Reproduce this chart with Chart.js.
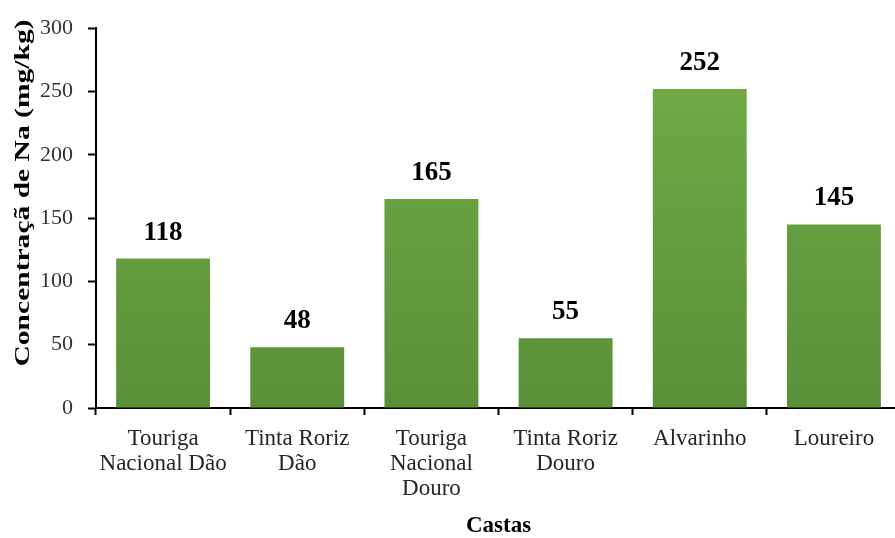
<!DOCTYPE html>
<html>
<head>
<meta charset="utf-8">
<script src="https://cdn.jsdelivr.net/npm/chart.js@4"></script>
<style>
  html, body { margin: 0; padding: 0; background: #fff; overflow: hidden; }
  #wrap { position: relative; width: 901px; height: 538px; }
</style>
</head>
<body>
<div id="wrap"><canvas id="chart"></canvas></div>
<script>
const castas = [
  ['Touriga', 'Nacional Dão'],
  ['Tinta Roriz', 'Dão'],
  ['Touriga', 'Nacional', 'Douro'],
  ['Tinta Roriz', 'Douro'],
  'Alvarinho',
  'Loureiro'
];
const sodio = [118, 48, 165, 55, 252, 145];
const yMax = 300;
const yStep = 50;
const yTitle = 'Concentraçã de Na (mg/kg)';
const xTitle = 'Castas';

const serif = '"Liberation Serif", "Times New Roman", serif';

function barGradient(context) {
  const chart = context.chart;
  const area = chart.chartArea;
  if (!area) return '#6aa443';
  const g = chart.ctx.createLinearGradient(0, area.top, 0, area.bottom);
  g.addColorStop(0, '#72ae48');
  g.addColorStop(1, '#5a9038');
  return g;
}

// value labels above the bars
const valueLabels = {
  id: 'valueLabels',
  afterDatasetsDraw(chart) {
    const ctx = chart.ctx;
    const meta = chart.getDatasetMeta(0);
    ctx.save();
    ctx.font = 'bold 27px ' + serif;
    ctx.fillStyle = '#000';
    ctx.textAlign = 'center';
    ctx.textBaseline = 'alphabetic';
    meta.data.forEach((bar, i) => {
      ctx.fillText(String(sodio[i]), bar.x, bar.y - 19);
    });
    ctx.restore();
  }
};

// y title is stretched along its length in the original, so draw it by hand
const stretchedYTitle = {
  id: 'stretchedYTitle',
  afterDraw(chart) {
    const ctx = chart.ctx;
    ctx.save();
    ctx.translate(23, 193);
    ctx.rotate(-Math.PI / 2);
    ctx.font = 'bold 22px ' + serif;
    const w = ctx.measureText(yTitle).width;
    ctx.scale(347 / w, 1);
    ctx.fillStyle = '#000';
    ctx.textAlign = 'center';
    ctx.textBaseline = 'middle';
    ctx.fillText(yTitle, 0, 0);
    ctx.restore();
  }
};

new Chart(document.getElementById('chart'), {
  type: 'bar',
  data: {
    labels: castas,
    datasets: [{
      data: sodio,
      backgroundColor: barGradient,
      borderWidth: 0,
      categoryPercentage: 1.0,
      barPercentage: 0.7
    }]
  },
  options: {
    responsive: true,
    maintainAspectRatio: false,
    animation: false,
    layout: { padding: { top: 27, left: 0, right: 0, bottom: 0 } },
    plugins: {
      legend: { display: false },
      tooltip: { enabled: false }
    },
    scales: {
      x: {
        grid: {
          display: true,
          drawOnChartArea: false,
          drawTicks: true,
          tickLength: 7,
          tickWidth: 2,
          tickColor: '#000',
          offset: true
        },
        border: { display: true, color: '#000', width: 2 },
        ticks: {
          color: '#262626',
          font: { family: serif, size: 23, lineHeight: 25 / 23 },
          padding: 11,
          maxRotation: 0,
          autoSkip: false
        },
        title: {
          display: true,
          text: xTitle,
          color: '#000',
          font: { family: serif, size: 23, weight: 'bold', lineHeight: 1 },
          padding: { top: 0, bottom: 0 }
        },
        afterFit(scale) { scale.height = 538 - 408; }
      },
      y: {
        min: 0,
        max: yMax,
        grid: {
          display: true,
          drawOnChartArea: false,
          drawTicks: true,
          tickLength: 8,
          tickWidth: 2,
          tickColor: '#000'
        },
        border: { display: true, color: '#000', width: 2 },
        ticks: {
          stepSize: yStep,
          color: '#333',
          font: { family: serif, size: 22 },
          padding: 15
        },
        title: { display: false },
        afterFit(scale) { scale.width = 96; }
      }
    }
  },
  plugins: [valueLabels, stretchedYTitle]
});
</script>
</body>
</html>
